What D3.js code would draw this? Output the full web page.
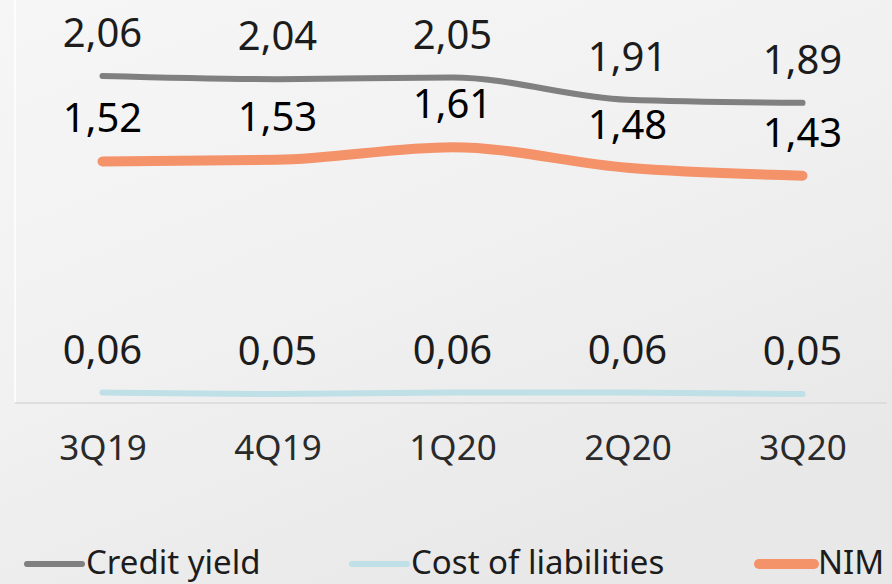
<!DOCTYPE html>
<html>
<head>
<meta charset="utf-8">
<script src="https://cdn.jsdelivr.net/npm/d3@7"></script>
<style>
  body { margin: 0; background: #efefef; }
  svg { display: block; font-family: "Noto Sans", "Open Sans", sans-serif; }
</style>
</head>
<body>
<div id="chart"></div>
<script>
let
    svgWidth = 892,
    svgHeight = 584

// chart values
let quarters = ["3Q19", "4Q19", "1Q20", "2Q20", "3Q20"]
let creditYield = [2.06, 2.04, 2.05, 1.91, 1.89]
let costOfLiabilities = [0.06, 0.05, 0.06, 0.06, 0.05]
let nim = [1.52, 1.53, 1.61, 1.48, 1.43]
let seriesNames = ["Credit yield", "Cost of liabilities", "NIM"]

let plot = { left: 15, right: 890, top: 0, bottom: 402 }

let svg = d3.select("#chart")
  .append("svg")
  .attr("width", svgWidth)
  .attr("height", svgHeight)

// faded background
let defs = svg.append("defs")
let grad = defs.append("linearGradient")
  .attr("id", "bg")
  .attr("x1", "0").attr("y1", "0").attr("x2", "0.6").attr("y2", "1")
grad.append("stop").attr("offset", "0").attr("stop-color", "#f6f6f6")
grad.append("stop").attr("offset", "0.5").attr("stop-color", "#f1f1f1")
grad.append("stop").attr("offset", "1").attr("stop-color", "#e8e8e8")
svg.append("rect")
  .attr("width", svgWidth)
  .attr("height", svgHeight)
  .attr("fill", "url(#bg)")

let x = d3.scalePoint()
  .domain(quarters)
  .range([plot.left, plot.right])
  .padding(0.5)

let y = d3.scaleLinear()
  .domain([0, 2.54])
  .range([plot.bottom, plot.top])

// plot frame: left and bottom borders
svg.append("line")
  .attr("x1", plot.left).attr("x2", plot.left)
  .attr("y1", plot.top).attr("y2", plot.bottom)
  .attr("stroke", "#ffffff")
  .attr("stroke-width", 1.5)
svg.append("line")
  .attr("x1", plot.left).attr("x2", 887)
  .attr("y1", plot.bottom + 1).attr("y2", plot.bottom + 1)
  .attr("stroke", "#d9d9d9")
  .attr("stroke-width", 1.5)

let series = [
  { name: seriesNames[0], values: creditYield, color: "#808080", width: 6, labelColor: "#1c1c1c" },
  { name: seriesNames[1], values: costOfLiabilities, color: "#bfe0e6", width: 6, labelColor: "#1c1c1c" },
  { name: seriesNames[2], values: nim, color: "#f4926a", width: 10, labelColor: "#000000" }
]

let line = d3.line()
  .x((d, i) => x(quarters[i]))
  .y(d => y(d))
  .curve(d3.curveMonotoneX)

let fmt = v => d3.format(".2f")(v).replace(".", ",")

series.forEach(s => {
  svg.append("path")
    .datum(s.values)
    .attr("d", line)
    .attr("fill", "none")
    .attr("stroke", s.color)
    .attr("stroke-width", s.width)
    .attr("stroke-linecap", "round")
    .attr("stroke-linejoin", "round")

  svg.append("g")
    .selectAll("text")
    .data(s.values)
    .enter()
    .append("text")
      .attr("x", (d, i) => x(quarters[i]))
      .attr("y", d => y(d) - 29)
      .attr("text-anchor", "middle")
      .attr("font-size", 40)
      .attr("fill", s.labelColor)
      .text(d => fmt(d))
})

// category axis
let xAxis = svg.append("g")
  .attr("transform", `translate(0, ${plot.bottom})`)
  .call(d3.axisBottom(x).tickSize(0).tickPadding(0))
xAxis.select(".domain").remove()
xAxis.selectAll("text")
  .attr("y", 58)
  .attr("dy", null)
  .attr("font-size", 35)
  .attr("font-family", "\"Noto Sans\", sans-serif")
  .attr("fill", "#2a2a2a")

// legend
let legendX = [27, 352, 759]
let legend = svg.append("g")
series.forEach((s, i) => {
  let g = legend.append("g")
    .attr("transform", `translate(${legendX[i]}, 564)`)
  g.append("line")
    .attr("x1", 0).attr("x2", 55)
    .attr("stroke", s.color)
    .attr("stroke-width", s.width)
    .attr("stroke-linecap", "round")
  g.append("text")
    .attr("x", 59)
    .attr("y", 10)
    .attr("font-size", 33)
    .attr("fill", "#1c1c1c")
    .text(s.name)
})
</script>
</body>
</html>
